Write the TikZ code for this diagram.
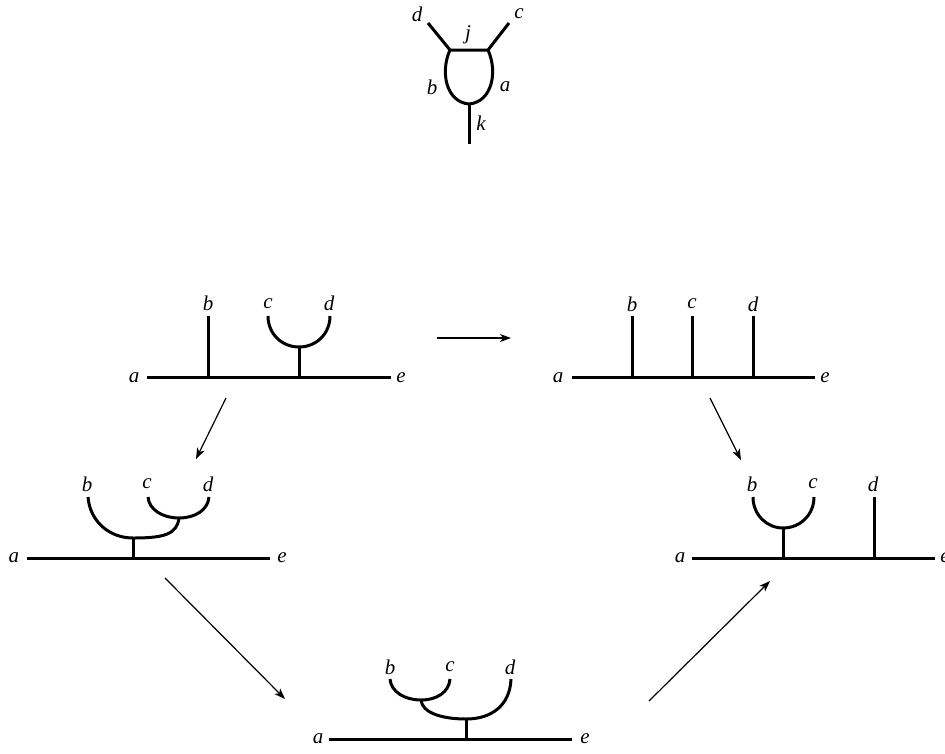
\documentclass[tikz,border=0pt]{standalone}
\usepackage{fontspec}
\setmainfont{Liberation Serif}
\usetikzlibrary{arrows.meta}
\tikzset{
  x=1pt,y=-1pt,
  wire/.style={line width=3pt,line cap=butt,line join=round},
  mapto/.style={line width=1.2pt,-{Stealth[length=11pt,width=8pt,inset=3pt]}},
  lab/.style={inner sep=0pt,font=\fontsize{21}{21}\selectfont\itshape},
}
\newcommand{\Lab}[3]{\node[lab] at (#1,#2) {#3};}
\begin{document}
\begin{tikzpicture}
\useasboundingbox (0,0) rectangle (945,753);
% top diagram
\coordinate (td) at (428,23); \coordinate (tl) at (450,50); \coordinate (tr) at (488,50);
\coordinate (tc) at (509,23); \coordinate (tb) at (469,104); \coordinate (tk) at (469,144);
\draw[wire] (td) -- (tl) -- (tr) -- (tc);
\draw[wire] (tl) .. controls (440,72) and (446,102) .. (tb) .. controls (492,102) and (498,72) .. (tr);
\draw[wire] (tb) -- (tk);
\Lab{417}{14}{d}\Lab{519}{14}{c}\Lab{468}{35}{j}\Lab{432}{87}{b}\Lab{505}{87}{a}\Lab{481}{123}{k}
% diagram 1
\coordinate (a1) at (147,377); \coordinate (e1) at (391,377);
\coordinate (b1) at (208,316); \coordinate (b1f) at (208,377);
\coordinate (c1) at (268,316); \coordinate (d1) at (330,316);
\coordinate (j1) at (299,347); \coordinate (j1f) at (299,377);
\draw[wire] (a1) -- (e1);
\draw[wire] (b1) -- (b1f);
\draw[wire] (j1) -- (j1f);
\draw[wire] (c1) .. controls (268,334) and (282,347) .. (j1) .. controls (316,347) and (330,334) .. (d1);
\Lab{134}{378}{a}\Lab{401}{378}{e}\Lab{208}{303}{b}\Lab{268}{304}{c}\Lab{329}{303}{d}
% diagram 2
\coordinate (a2) at (572,377); \coordinate (e2) at (815,377);
\foreach \n/\x in {b/632,c/692,d/753}{
  \coordinate (\n2) at (\x,316); \coordinate (\n2f) at (\x,377);
  \draw[wire] (\n2) -- (\n2f);
  \Lab{\x}{304}{\n}
}
\draw[wire] (a2) -- (e2);
\Lab{558}{378}{a}\Lab{825}{378}{e}
% diagram 3
\coordinate (a3) at (27,558); \coordinate (e3) at (270,558);
\coordinate (b3) at (88,497); \coordinate (c3) at (148,497); \coordinate (d3) at (209,497);
\coordinate (j3) at (179,518); \coordinate (s3) at (133,538); \coordinate (s3f) at (133,558);
\draw[wire] (a3) -- (e3);
\draw[wire] (s3) -- (s3f);
\draw[wire] (b3) .. controls (90,522) and (110,538) .. (s3) .. controls (165,538) and (177,534) .. (j3);
\draw[wire] (c3) .. controls (149,510) and (163,518) .. (j3) .. controls (195,518) and (208,510) .. (d3);
\Lab{14}{558}{a}\Lab{282}{558}{e}\Lab{87}{484}{b}\Lab{147}{484}{c}\Lab{208}{484}{d}
% diagram 4
\coordinate (a4) at (692,558); \coordinate (e4) at (935,558);
\coordinate (b4) at (753,497); \coordinate (c4) at (814,497); \coordinate (d4) at (874,497);
\coordinate (d4f) at (874,558); \coordinate (j4) at (783,528); \coordinate (j4f) at (783,558);
\draw[wire] (a4) -- (e4);
\draw[wire] (d4) -- (d4f);
\draw[wire] (j4) -- (j4f);
\draw[wire] (b4) .. controls (753,515) and (767,528) .. (j4) .. controls (800,528) and (814,515) .. (c4);
\Lab{680}{558}{a}\Lab{945}{558}{e}\Lab{752}{484}{b}\Lab{813}{484}{c}\Lab{873}{484}{d}
% diagram 5
\coordinate (a5) at (329,739); \coordinate (e5) at (572,739);
\coordinate (b5) at (390,679); \coordinate (c5) at (450,679); \coordinate (d5) at (511,679);
\coordinate (j5) at (421,700); \coordinate (s5) at (466,719); \coordinate (s5f) at (466,739);
\draw[wire] (a5) -- (e5);
\draw[wire] (s5) -- (s5f);
\draw[wire] (b5) .. controls (391,692) and (405,700) .. (j5) .. controls (437,700) and (449,692) .. (c5);
\draw[wire] (j5) .. controls (422,712) and (440,719) .. (s5) .. controls (492,719) and (510,705) .. (d5);
\Lab{318}{739}{a}\Lab{585}{739}{e}\Lab{390}{667}{b}\Lab{450}{667}{c}\Lab{510}{667}{d}
% arrows
\coordinate (m1) at (437,338); \coordinate (m1e) at (511,338);
\coordinate (m2) at (226,398); \coordinate (m2e) at (196,459);
\coordinate (m3) at (710,398); \coordinate (m3e) at (741,460);
\coordinate (m4) at (165,578); \coordinate (m4e) at (285,699);
\coordinate (m5) at (649,701); \coordinate (m5e) at (770,581);
\draw[mapto] (m1) -- (m1e);
\draw[mapto] (m2) -- (m2e);
\draw[mapto] (m3) -- (m3e);
\draw[mapto] (m4) -- (m4e);
\draw[mapto] (m5) -- (m5e);
\end{tikzpicture}
\end{document}
